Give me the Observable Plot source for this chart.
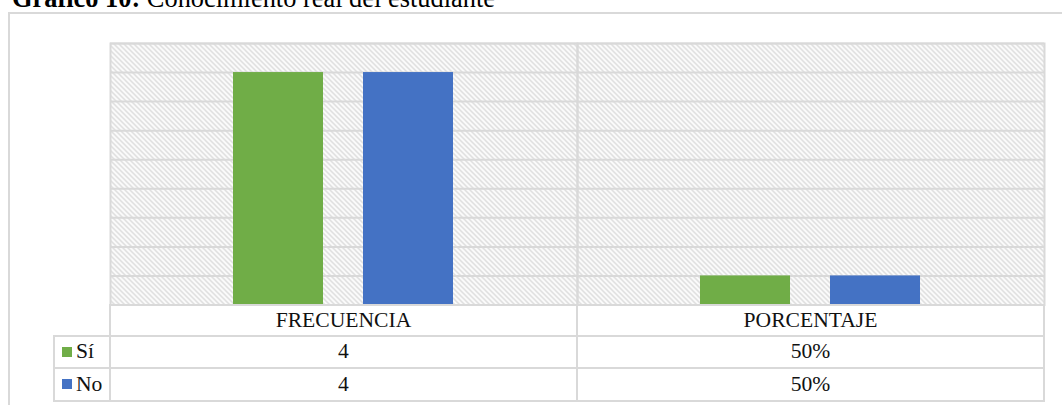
<!DOCTYPE html>
<html>
<head>
<meta charset="utf-8">
<script src="https://cdn.jsdelivr.net/npm/d3@7"></script>
<script src="https://cdn.jsdelivr.net/npm/@observablehq/plot@0.6"></script>
<style>
  body { margin: 0; background: #fff; }
  #wrap { position: relative; width: 1062px; height: 405px; overflow: hidden; font-family: "Liberation Serif", "Times New Roman", serif; }
  .title { position: absolute; left: 12px; top: -15px; font-size: 26.4px; line-height: 26.4px; white-space: nowrap; color: #000; }
  .outer { position: absolute; left: 8px; top: 12px; width: 2000px; height: 1000px; border: 2px solid #d9d9d9; box-sizing: border-box; }
  #chart { position: absolute; left: 0; top: 0; }
  .cell { position: absolute; box-sizing: border-box; border: 2px solid #d9d9d9; display: flex; align-items: center; justify-content: center; font-size: 21.6px; color: #111; white-space: nowrap; }
  .leg { justify-content: flex-start; padding-left: 7px; }
  .sw { display: inline-block; width: 10px; height: 10px; margin-right: 4px; }
</style>
</head>
<body>
<div id="wrap">
  <div class="outer"></div>
  <div class="title"><b>Gráfico 10:</b> Conocimiento real del estudiante</div>
  <div id="chart"></div>
</div>
<script>
// ---- data ----
const categories = ["FRECUENCIA", "PORCENTAJE"];
const series = ["Sí", "No"];
const siValues = [4, 0.5];
const noValues = [4, 0.5];
const tableLabelsSi = ["4", "50%"];
const tableLabelsNo = ["4", "50%"];
const colors = ["#70AD47", "#4472C4"];
const yTicks = [0, 0.5, 1, 1.5, 2, 2.5, 3, 3.5, 4, 4.5];

const rows = [];
categories.forEach((c, i) => {
  rows.push({category: c, series: "Sí", value: siValues[i]});
  rows.push({category: c, series: "No", value: noValues[i]});
});

const chart = Plot.plot({
  width: 1062,
  height: 310,
  marginLeft: 110,
  marginRight: 18,
  marginTop: 43,
  marginBottom: 5.5,
  style: {background: "transparent"},
  fx: {domain: categories, padding: 0, axis: null},
  x: {domain: series, paddingInner: 0.305, paddingOuter: 0.935, axis: null},
  y: {domain: [0, 4.5], axis: null},
  color: {domain: series, range: colors},
  marks: [
    Plot.frame({fill: "url(#hatch)", stroke: "none"}),
    Plot.ruleY(yTicks, {stroke: "#d9d9d9", strokeWidth: 2, strokeOpacity: 1}),
    Plot.barY(rows, {fx: "category", x: "series", y: "value", fill: "series", inset: 0}),
    Plot.frame({stroke: "#d9d9d9", strokeWidth: 2, strokeOpacity: 1})
  ]
});

const ns = "http://www.w3.org/2000/svg";
const defs = document.createElementNS(ns, "defs");
defs.innerHTML = '<pattern id="hatch" patternUnits="userSpaceOnUse" width="5" height="5">' +
  '<rect width="5" height="5" fill="#fff"/>' +
  '<path d="M-1,-1L6,6M-1,4L1,6M4,-1L6,1" stroke="#d4d4d4" stroke-width="1.3"/></pattern>';
chart.insertBefore(defs, chart.firstChild);
document.getElementById("chart").appendChild(chart);

// ---- data table ----
const wrap = document.getElementById("wrap");
const colX = [110, 577, 1044];
const legX = 54;
const rowY = [304.5, 335.5, 368, 400.5];
function cell(x0, y0, x1, y1, content, cls) {
  const d = document.createElement("div");
  d.className = "cell" + (cls ? " " + cls : "");
  d.style.left = (x0 - 1) + "px";
  d.style.top = (y0 - 1) + "px";
  d.style.width = (x1 - x0 + 2) + "px";
  d.style.height = (y1 - y0 + 2) + "px";
  if (typeof content === "string") d.textContent = content; else d.appendChild(content);
  wrap.appendChild(d);
}
categories.forEach((c, i) => cell(colX[i], rowY[0], colX[i + 1], rowY[1], c));
const tableLabels = [tableLabelsSi, tableLabelsNo];
series.forEach((s, r) => {
  const frag = document.createElement("span");
  const sw = document.createElement("span");
  sw.className = "sw";
  sw.style.background = colors[r];
  frag.appendChild(sw);
  frag.appendChild(document.createTextNode(s));
  frag.style.display = "flex";
  frag.style.alignItems = "center";
  cell(legX, rowY[r + 1], colX[0], rowY[r + 2], frag, "leg");
  categories.forEach((c, i) => cell(colX[i], rowY[r + 1], colX[i + 1], rowY[r + 2], tableLabels[r][i]));
});
</script>
</body>
</html>
